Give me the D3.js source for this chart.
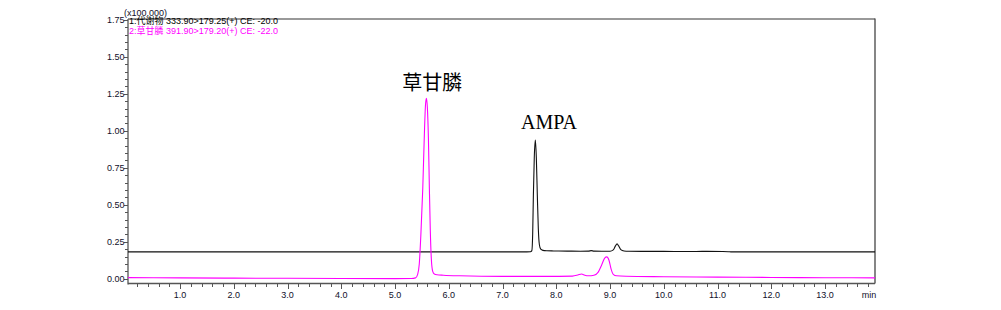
<!DOCTYPE html>
<html><head><meta charset="utf-8">
<script src="https://cdn.jsdelivr.net/npm/d3@7"></script>
<style>
html,body{margin:0;padding:0;background:#fff;}
svg{display:block;}
text{font-family:"Liberation Sans",Arial,"Noto Sans CJK SC",sans-serif;}
</style></head>
<body>
<svg id="chart" width="1001" height="310"></svg>
<script>
// ---- data ----
const yTickValues = [0, 0.25, 0.5, 0.75, 1.0, 1.25, 1.5, 1.75];
const yTickLabels = ["0.00","0.25","0.50","0.75","1.00","1.25","1.50","1.75"];
const xTickValues = [1,2,3,4,5,6,7,8,9,10,11,12,13];
const xTickLabels = ["1.0","2.0","3.0","4.0","5.0","6.0","7.0","8.0","9.0","10.0","11.0","12.0","13.0"];
const legendLabels = ["1:代谢物 333.90>179.25(+) CE: -20.0", "2:草甘膦 391.90>179.20(+) CE: -22.0"];
const peakLabels = ["草甘膦", "AMPA"];
const peakLabelPos = [[5.69, 1.273], [7.864, 1.0085]];

// series 1 (black): time (min), intensity (x100,000)
const s1Time = [0.03, 1.0, 3.0, 5.0, 7.0, 7.45, 7.52, 7.545, 7.56, 7.573, 7.59, 7.61, 7.628, 7.647, 7.665, 7.685, 7.71, 7.75, 7.82, 7.95, 8.2, 8.45, 8.6, 8.65, 8.7, 8.85, 9.0, 9.06, 9.1, 9.13, 9.16, 9.2, 9.26, 9.35, 9.6, 10.0, 10.4, 10.8, 11.1, 11.2, 11.25, 12.0, 13.0, 13.93];
const s1Value = [0.182, 0.182, 0.182, 0.182, 0.182, 0.182, 0.183, 0.19, 0.3, 0.56, 0.82, 0.937, 0.82, 0.56, 0.34, 0.23, 0.2, 0.192, 0.189, 0.188, 0.187, 0.186, 0.187, 0.19, 0.187, 0.186, 0.186, 0.195, 0.222, 0.236, 0.222, 0.197, 0.188, 0.186, 0.185, 0.185, 0.184, 0.185, 0.184, 0.183, 0.182, 0.182, 0.182, 0.182];

// series 2 (magenta)
const s2Time = [0.03, 1.0, 2.0, 3.0, 4.0, 5.0, 5.3, 5.38, 5.42, 5.45, 5.48, 5.515, 5.545, 5.565, 5.582, 5.60, 5.62, 5.638, 5.655, 5.675, 5.70, 5.73, 5.78, 5.9, 6.2, 7.0, 7.8, 8.3, 8.4, 8.47, 8.53, 8.6, 8.7, 8.78, 8.84, 8.9, 8.94, 8.98, 9.02, 9.06, 9.12, 9.3, 10.0, 11.0, 12.0, 13.0, 13.93];
const s2Value = [0.008, 0.006, 0.004, 0.003, 0.002, 0.001, 0.002, 0.006, 0.03, 0.1, 0.3, 0.61, 0.98, 1.17, 1.219, 1.16, 0.95, 0.61, 0.33, 0.13, 0.05, 0.032, 0.027, 0.024, 0.02, 0.016, 0.016, 0.018, 0.025, 0.032, 0.024, 0.02, 0.024, 0.045, 0.09, 0.14, 0.148, 0.125, 0.065, 0.03, 0.02, 0.017, 0.014, 0.011, 0.009, 0.007, 0.006];

// ---- layout ----
const svg = d3.select("#chart");
const L = 128, R = 875, T = 19, B = 283.5;
const x = d3.scaleLinear().domain([0.03, 13.93]).range([L, R]);
const y = d3.scaleLinear().domain([-0.032, 1.755]).range([B, T]);
const axisColor = "#555";
const labelColor = "#10102a";

// frame: top and right
svg.append("line").attr("x1", L).attr("x2", R).attr("y1", T).attr("y2", T)
  .attr("stroke", "#777").attr("stroke-width", 1.3);
svg.append("line").attr("x1", R).attr("x2", R).attr("y1", T - 0.6).attr("y2", B)
  .attr("stroke", "#444").attr("stroke-width", 1.3);

// y axis
const yMinor = d3.range(0, 1.7501, 0.05);
const yAx = svg.append("g");
yAx.append("line").attr("x1", L).attr("x2", L).attr("y1", T).attr("y2", B + 1)
  .attr("stroke", axisColor).attr("stroke-width", 1.3);
yAx.selectAll("line.minor").data(yMinor).join("line").attr("class", "minor")
  .attr("x1", L - 3).attr("x2", L).attr("y1", d => Math.round(y(d)) + 0.5).attr("y2", d => Math.round(y(d)) + 0.5)
  .attr("stroke", axisColor).attr("stroke-width", 1);
yAx.selectAll("line.major").data(yTickValues).join("line").attr("class", "major")
  .attr("x1", L - 4).attr("x2", L).attr("y1", d => Math.round(y(d)) + 0.5).attr("y2", d => Math.round(y(d)) + 0.5)
  .attr("stroke", axisColor).attr("stroke-width", 1);
yAx.selectAll("text").data(yTickValues).join("text")
  .attr("x", L - 3.5).attr("y", d => y(d)).attr("dy", "0.35em")
  .attr("text-anchor", "end").attr("font-size", 9).attr("fill", labelColor)
  .text((d, i) => yTickLabels[i]);
svg.append("text").attr("x", 124).attr("y", 16).attr("font-size", 9).attr("fill", labelColor)
  .text("(x100,000)");

// x axis
const xMinor = d3.range(0.2, 13.9, 0.2);
const xAx = svg.append("g");
xAx.append("line").attr("x1", L).attr("x2", R).attr("y1", B).attr("y2", B)
  .attr("stroke", axisColor).attr("stroke-width", 1.3);
xAx.selectAll("line.minor").data(xMinor).join("line").attr("class", "minor")
  .attr("x1", d => Math.round(x(d)) + 0.5).attr("x2", d => Math.round(x(d)) + 0.5)
  .attr("y1", B).attr("y2", B + 3.5).attr("stroke", axisColor).attr("stroke-width", 1);
xAx.selectAll("line.major").data(xTickValues).join("line").attr("class", "major")
  .attr("x1", d => Math.round(x(d)) + 0.5).attr("x2", d => Math.round(x(d)) + 0.5)
  .attr("y1", B).attr("y2", B + 5.5).attr("stroke", axisColor).attr("stroke-width", 1);
xAx.selectAll("text").data(xTickValues).join("text")
  .attr("x", d => x(d)).attr("y", 294.5).attr("dy", "0.35em")
  .attr("text-anchor", "middle").attr("font-size", 9).attr("fill", labelColor)
  .text((d, i) => xTickLabels[i]);
svg.append("text").attr("x", 869).attr("y", 294.5).attr("dy", "0.35em")
  .attr("text-anchor", "middle").attr("font-size", 9).attr("fill", labelColor).text("min");

// traces
const line = d3.line().x(d => x(d[0])).y(d => y(d[1])).curve(d3.curveMonotoneX);
const s2 = s2Time.map((t, i) => [t, s2Value[i]]);
const s1 = s1Time.map((t, i) => [t, s1Value[i]]);
svg.append("path").datum(s1).attr("d", line).attr("fill", "none")
  .attr("stroke", "#111").attr("stroke-width", 1.1);
svg.append("path").datum(s2).attr("d", line).attr("fill", "none")
  .attr("stroke", "#ff00ff").attr("stroke-width", 1.1);

// legend
const legColors = ["#000", "#ff00ff"];
svg.selectAll("text.leg").data(legendLabels).join("text").attr("class", "leg")
  .attr("x", 129).attr("y", (d, i) => 24 + i * 10).attr("font-size", 9)
  .attr("fill", (d, i) => legColors[i]).text(d => d);

// peak labels
svg.selectAll("text.pk").data(peakLabels).join("text").attr("class", "pk")
  .attr("x", (d, i) => x(peakLabelPos[i][0])).attr("y", (d, i) => y(peakLabelPos[i][1]))
  .attr("text-anchor", "middle").attr("font-size", 20).attr("fill", "#000")
  .style("font-family", (d, i) => i === 0 ? "'Noto Sans CJK SC', serif" : "'Liberation Serif', 'Times New Roman', serif")
  .text(d => d);
</script>
</body></html>
